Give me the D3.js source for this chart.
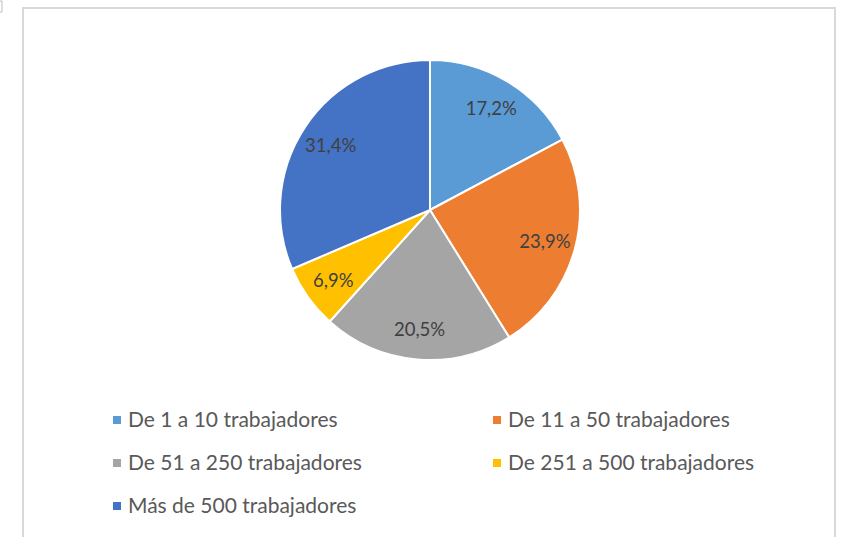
<!DOCTYPE html>
<html>
<head>
<meta charset="utf-8">
<script src="https://cdn.jsdelivr.net/npm/d3@7"></script>
<style>
  html, body { margin: 0; padding: 0; background: #fff; }
  svg { display: block; }
</style>
</head>
<body>
<div id="chart"></div>
<script>
  var categories = ["De 1 a 10 trabajadores", "De 11 a 50 trabajadores", "De 51 a 250 trabajadores",
                    "De 251 a 500 trabajadores", "Más de 500 trabajadores"];
  var values = [17.2, 23.9, 20.5, 6.9, 31.4];
  var labels = ["17,2%", "23,9%", "20,5%", "6,9%", "31,4%"];
  var colors = ["#5B9BD5", "#ED7D31", "#A5A5A5", "#FFC000", "#4472C4"];

  var width = 843, height = 537;
  var cx = 430, cy = 210, radius = 150, labelRadius = 119;
  var font = "Lato, 'Noto Sans', sans-serif";

  var svg = d3.select('#chart').append('svg')
    .attr('width', width)
    .attr('height', height);

  // chart frame (runs off the bottom of the picture)
  svg.append('rect')
    .attr('x', 23).attr('y', 8)
    .attr('width', 812).attr('height', 560)
    .attr('fill', '#fff')
    .attr('stroke', '#d9d9d9')
    .attr('stroke-width', 2);

  // little handle remnant in the corner
  svg.append('path')
    .attr('d', 'M0,1 H2 V12 H0')
    .attr('fill', 'none')
    .attr('stroke', '#bfbfbf')
    .attr('stroke-width', 1);

  var data = categories.map(function (c, i) {
    return { name: c, value: values[i], label: labels[i], color: colors[i] };
  });

  var pie = d3.pie()
    .sort(null)
    .value(function (d) { return d.value; });

  var arc = d3.arc().innerRadius(0).outerRadius(radius);
  var labelArc = d3.arc().innerRadius(labelRadius).outerRadius(labelRadius);

  var g = svg.append('g').attr('transform', 'translate(' + cx + ',' + cy + ')');
  var arcs = pie(data);

  g.selectAll('path')
    .data(arcs)
    .enter()
    .append('path')
    .attr('d', arc)
    .attr('fill', function (d) { return d.data.color; })
    .attr('stroke', '#fff')
    .attr('stroke-width', 2)
    .attr('stroke-linejoin', 'round');

  g.selectAll('text')
    .data(arcs)
    .enter()
    .append('text')
    .attr('transform', function (d) { return 'translate(' + labelArc.centroid(d) + ')'; })
    .attr('text-anchor', 'middle')
    .attr('dy', '0.4em')
    .style('font-family', font)
    .style('font-size', '18.5px')
    .style('fill', '#404040')
    .text(function (d) { return d.data.label; });

  // legend, two columns
  var legend = svg.append('g');
  var item = legend.selectAll('g')
    .data(data)
    .enter()
    .append('g')
    .attr('transform', function (d, i) {
      var col = i % 2, row = Math.floor(i / 2);
      return 'translate(' + (113 + col * 380) + ',' + (420 + row * 43) + ')';
    });

  item.append('rect')
    .attr('x', 0).attr('y', -4)
    .attr('width', 8).attr('height', 8)
    .attr('fill', function (d) { return d.color; });

  item.append('text')
    .attr('x', 15)
    .attr('dy', '0.35em')
    .style('font-family', font)
    .style('font-size', '21px')
    .style('fill', '#595959')
    .text(function (d) { return d.name; });
</script>
</body>
</html>
